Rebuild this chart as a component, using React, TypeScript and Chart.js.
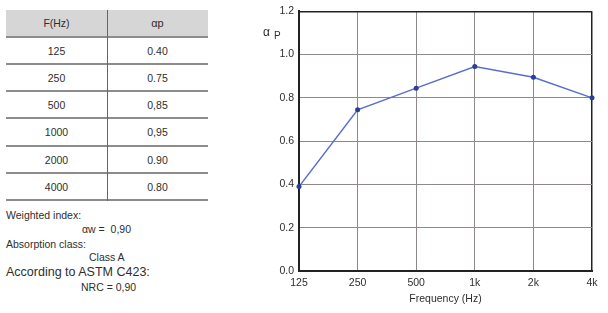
import React, { useEffect, useRef } from "react";
import { Chart, registerables } from "chart.js";

Chart.register(...registerables);

const tableFreqs = ["125", "250", "500", "1000", "2000", "4000"];
const tableValues = ["0.40", "0.75", "0,85", "0,95", "0.90", "0.80"];
const chartLabels = ["125", "250", "500", "1k", "2k", "4k"];
const chartValues = [0.39, 0.745, 0.845, 0.945, 0.895, 0.8];
const yTicks = [0, 0.2, 0.4, 0.6, 0.8, 1.0, 1.2];

const FONT = "'Liberation Sans', Arial, sans-serif";
const TXT = "#2e2e2e";
const GRID = "#8f8888";

function ChartPanel() {
  const ref = useRef<HTMLCanvasElement | null>(null);
  useEffect(() => {
    const canvas = ref.current!;
    const chart = new Chart(canvas, {
      type: "line",
      data: {
        labels: chartLabels,
        datasets: [
          {
            data: chartValues,
            borderColor: "#5a6cd0",
            borderWidth: 1.5,
            pointRadius: 2.5,
            pointBackgroundColor: "#2c3c9c",
            pointBorderColor: "#2c3c9c",
            pointBorderWidth: 0,
            tension: 0,
            clip: false as any,
          },
        ],
      },
      options: {
        responsive: false,
        animation: false,
        events: [],
        layout: { padding: { top: 11, right: 16, left: 0, bottom: 0 } },
        plugins: { legend: { display: false }, tooltip: { enabled: false } },
        scales: {
          x: {
            type: "category",
            offset: false,
            grid: {
              color: (c: any) => (c.index === chartLabels.length - 1 ? "#222" : GRID),
              lineWidth: (c: any) => (c.index === chartLabels.length - 1 ? 1.5 : 1),
              drawTicks: false,
            },
            border: { display: true, color: "#222", width: 2 },
            ticks: { color: TXT, font: { family: FONT, size: 10.5 }, padding: 6, maxRotation: 0 },
            title: {
              display: true,
              text: "Frequency (Hz)",
              color: TXT,
              font: { family: FONT, size: 10.5 },
              padding: { top: 0, bottom: 8 },
            },
            afterFit: (s: any) => {
              s.height = 42;
            },
          },
          y: {
            min: 0,
            max: 1.2,
            afterBuildTicks: (s: any) => {
              s.ticks = yTicks.map((v) => ({ value: v }));
            },
            grid: {
              color: (c: any) => (c.tick && Math.abs(c.tick.value - 1.2) < 1e-6 ? "#222" : GRID),
              lineWidth: (c: any) => (c.tick && Math.abs(c.tick.value - 1.2) < 1e-6 ? 1.5 : 1),
              drawTicks: false,
            },
            border: { display: true, color: "#222", width: 2 },
            ticks: {
              color: TXT,
              font: { family: FONT, size: 10.5 },
              padding: 5,
              callback: (v: any) => Number(v).toFixed(1),
            },
            afterFit: (s: any) => {
              s.width = 49;
            },
          },
        },
      },
    });
    return () => chart.destroy();
  }, []);
  return (
    <canvas
      ref={ref}
      width={358}
      height={313}
      style={{ position: "absolute", left: 250, top: 0, width: 358, height: 313 }}
    />
  );
}

export default function App() {
  const rowH = 27.3;
  const top0 = 10;
  const headH = 27.5;
  return (
    <div
      style={{
        position: "fixed",
        left: 0,
        top: 0,
        width: 608,
        height: 313,
        background: "#fff",
        fontFamily: FONT,
        color: TXT,
        overflow: "hidden",
      }}
    >
      <div
        style={{
          position: "absolute",
          left: 6,
          top: top0,
          width: 202,
          height: headH,
          background: "#d6d6d6",
          borderBottom: "2px solid #8c8c8c",
          boxSizing: "border-box",
        }}
      />
      <div style={{ position: "absolute", left: 6, width: 101, top: top0, height: headH, lineHeight: headH + "px", textAlign: "center", fontSize: 10.5 }}>
        F(Hz)
      </div>
      <div style={{ position: "absolute", left: 107, width: 101, top: top0, height: headH, lineHeight: headH + "px", textAlign: "center", fontSize: 11 }}>
        αp
      </div>
      {tableFreqs.map((f, i) => {
        const t = top0 + headH + i * rowH;
        return (
          <React.Fragment key={f}>
            <div
              style={{
                position: "absolute",
                left: 6,
                top: t,
                width: 202,
                height: rowH,
                borderBottom: "2px solid #8c8c8c",
                boxSizing: "border-box",
              }}
            />
            <div style={{ position: "absolute", left: 6, width: 101, top: t, height: rowH, lineHeight: rowH - 1 + "px", textAlign: "center", fontSize: 10.5 }}>
              {f}
            </div>
            <div style={{ position: "absolute", left: 107, width: 101, top: t, height: rowH, lineHeight: rowH - 1 + "px", textAlign: "center", fontSize: 10.5 }}>
              {tableValues[i]}
            </div>
          </React.Fragment>
        );
      })}
      <div
        style={{
          position: "absolute",
          left: 107,
          top: top0,
          width: 1,
          height: headH + tableFreqs.length * rowH,
          background: "#666",
        }}
      />
      <div style={{ position: "absolute", left: 6, top: 209, fontSize: 10.5, whiteSpace: "nowrap" }}>Weighted index:</div>
      <div style={{ position: "absolute", left: 82, top: 223, fontSize: 10.5, whiteSpace: "nowrap" }}>αw =&nbsp; 0,90</div>
      <div style={{ position: "absolute", left: 6, top: 238, fontSize: 10.5, whiteSpace: "nowrap" }}>Absorption class:</div>
      <div style={{ position: "absolute", left: 89, top: 251, fontSize: 10.5, whiteSpace: "nowrap" }}>Class A</div>
      <div style={{ position: "absolute", left: 6, top: 265, fontSize: 12.5, whiteSpace: "nowrap" }}>According to ASTM C423:</div>
      <div style={{ position: "absolute", left: 81, top: 281, fontSize: 10.5, whiteSpace: "nowrap" }}>NRC = 0,90</div>
      <ChartPanel />
      <div style={{ position: "absolute", left: 263, top: 25, fontSize: 12, whiteSpace: "nowrap" }}>α</div>
      <div style={{ position: "absolute", left: 274, top: 30, fontSize: 10, whiteSpace: "nowrap" }}>P</div>
    </div>
  );
}
